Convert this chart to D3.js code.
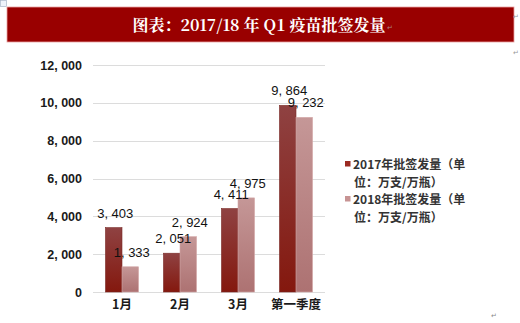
<!DOCTYPE html>
<html><head><meta charset="utf-8">
<script src="https://cdn.jsdelivr.net/npm/d3@7/dist/d3.min.js"></script>
<style>
html,body{margin:0;padding:0;background:#fff;}
svg{display:block;}
</style></head>
<body>
<script>
const title = "图表：2017/18 年 Q1 疫苗批签发量";
const categories = ["1月", "2月", "3月", "第一季度"];
const seriesNames = ["2017年批签发量（单位：万支/万瓶）", "2018年批签发量（单位：万支/万瓶）"];
const legendLines = [["2017年批签发量（单", "位：万支/万瓶）"], ["2018年批签发量（单", "位：万支/万瓶）"]];
const values2017 = [3403, 2051, 4411, 9864];
const values2018 = [1333, 2924, 4975, 9232];
const yTicks = [0, 2000, 4000, 6000, 8000, 10000, 12000];

const W = 520, H = 323;
const svg = d3.select("body").append("svg").attr("width", W).attr("height", H);
const defs = svg.append("defs");
const g1 = defs.append("linearGradient").attr("id","g17").attr("x1",0).attr("y1",0).attr("x2",0).attr("y2",1);
g1.append("stop").attr("offset","0%").attr("stop-color","#8f4242");
g1.append("stop").attr("offset","100%").attr("stop-color","#84180e");
const g2 = defs.append("linearGradient").attr("id","g18").attr("x1",0).attr("y1",0).attr("x2",0).attr("y2",1);
g2.append("stop").attr("offset","0%").attr("stop-color","#c59797");
g2.append("stop").attr("offset","100%").attr("stop-color","#ad7272");
const fills = ["url(#g17)", "url(#g18)"];
const legendColors = ["#9b2a22", "#c79393"];

// Word-like artifacts
svg.append("rect").attr("x",0.5).attr("y",0.5).attr("width",6).attr("height",6)
  .attr("fill","#eef3fb").attr("stroke","#9aa8c0").attr("stroke-width",0.6);

// Title bar
svg.append("rect").attr("x",7).attr("y",7).attr("width",507).attr("height",35)
  .attr("fill","#990000").attr("stroke","#e9a0a0").attr("stroke-width",0.8);
svg.append("text").attr("x",259).attr("y",30.5).attr("text-anchor","middle")
  .attr("fill","#fff").attr("font-family","'Noto Serif CJK SC','Noto Sans CJK SC',serif")
  .attr("font-weight","bold").attr("font-size",16).text(title);
svg.append("text").attr("x",387).attr("y",30).attr("fill","#b08080").attr("font-size",7)
  .attr("font-family","DejaVu Sans").text("↵");
svg.append("text").attr("x",513).attr("y",19).attr("fill","#999").attr("font-size",7)
  .attr("font-family","DejaVu Sans").text("↵");
svg.append("text").attr("x",513).attr("y",55).attr("fill","#999").attr("font-size",7)
  .attr("font-family","DejaVu Sans").text("↵");
svg.append("text").attr("x",491).attr("y",318).attr("fill","#888").attr("font-size",7)
  .attr("font-family","DejaVu Sans").text("↵");

// Scales
const x0 = d3.scaleBand().domain(categories).range([93, 325]).paddingInner(0.43).paddingOuter(0.215);
const x1 = d3.scaleBand().domain([0,1]).range([0, x0.bandwidth()]);
const y = d3.scaleLinear().domain([0, 12000]).range([292, 65]);

const fmt = v => d3.format(",")(v).replace(",", ", ");
const font = "'Liberation Sans', Arial, sans-serif";

// Gridlines
svg.append("g").selectAll("line").data(yTicks).join("line")
  .attr("x1",93).attr("x2",325).attr("y1",d=>Math.round(y(d))+0.5).attr("y2",d=>Math.round(y(d))+0.5)
  .attr("stroke","#dcdcdc").attr("stroke-width",1);

// Y axis
const yAxis = d3.axisLeft(y).tickValues(yTicks).tickFormat(fmt).tickSize(0).tickPadding(0);
const ya = svg.append("g").attr("transform","translate(82,0)").call(yAxis);
ya.select(".domain").remove();
ya.selectAll("text").attr("font-family",font).attr("font-weight","bold").attr("font-size",12.5).attr("fill","#1a1a1a");

// X axis
const xAxis = d3.axisBottom(x0).tickSize(0).tickPadding(0);
const xa = svg.append("g").attr("transform","translate(0,300)").call(xAxis);
xa.select(".domain").remove();
xa.selectAll("text").attr("font-family","'Noto Sans CJK SC', sans-serif").attr("font-weight","bold")
  .attr("font-size",12.5).attr("fill","#1a1a1a").attr("dy","0.75em");

// Bars
const data = categories.map((c,i)=>({c, v:[values2017[i], values2018[i]]}));
const grp = svg.append("g").selectAll("g").data(data).join("g")
  .attr("transform", d=>`translate(${x0(d.c)},0)`);
grp.selectAll("rect").data(d=>d.v.map((v,k)=>({v,k}))).join("rect")
  .attr("x", d=>x1(d.k)).attr("width", x1.bandwidth())
  .attr("y", d=>y(d.v)).attr("height", d=>y(0)-y(d.v))
  .attr("fill", d=>fills[d.k])
  .attr("stroke", d=>d.k===0?"#7a2a26":"#d4a8a8").attr("stroke-width",0.6);
grp.selectAll("text").data(d=>d.v.map((v,k)=>({v,k}))).join("text")
  .attr("x", d=>x1(d.k)+x1.bandwidth()/2+1.5).attr("y", d=>y(d.v)-10)
  .attr("text-anchor","middle").attr("font-family",font).attr("font-size",13)
  .attr("fill","#111").text(d=>fmt(d.v));

// Legend
const leg = svg.append("g").selectAll("g").data(legendLines).join("g")
  .attr("transform",(d,i)=>`translate(345,${164 + i*35})`);
leg.append("rect").attr("x",0).attr("y",-3).attr("width",5.5).attr("height",5.5)
  .attr("fill",(d,i)=>legendColors[i]);
leg.append("text").attr("x",8).attr("y",5).attr("font-family","'Noto Sans CJK SC', sans-serif")
  .attr("font-weight","bold").attr("font-size",12).attr("fill","#333")
  .text(d=>d[0]);
leg.append("text").attr("x",9).attr("y",23).attr("font-family","'Noto Sans CJK SC', sans-serif")
  .attr("font-weight","bold").attr("font-size",12).attr("fill","#333")
  .text(d=>d[1]);
</script>
</body></html>
